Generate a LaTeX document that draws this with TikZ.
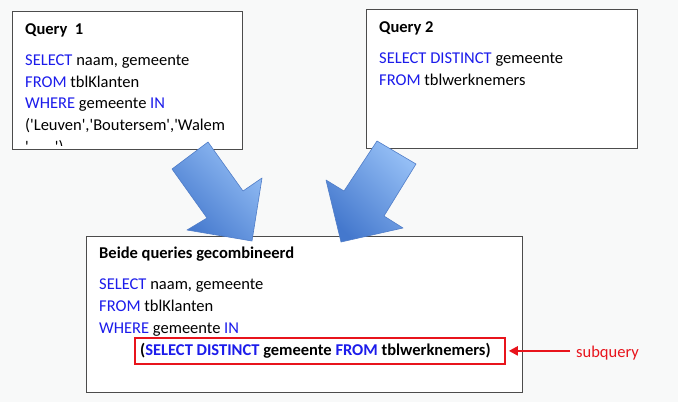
\documentclass[tikz,border=0pt]{standalone}
\usepackage{fontspec}
\setmainfont{Carlito}
\usetikzlibrary{arrows.meta}
\definecolor{kw}{RGB}{28,28,235}
\definecolor{redc}{RGB}{232,20,28}
\definecolor{bg}{RGB}{248,249,249}
\definecolor{bluedark}{RGB}{68,120,205}
\definecolor{bluelight}{RGB}{148,190,245}
\definecolor{blueedge}{RGB}{80,125,200}
\tikzset{
  qbox/.style={draw=black!70, line width=0.8pt, fill=white, inner sep=0pt, anchor=north west},
  txt/.style={anchor=base west, inner sep=0pt, font=\fontsize{16.5}{19}\selectfont},
  hd/.style={anchor=base west, inner sep=0pt, font=\fontsize{16.5}{19}\selectfont\bfseries},
  bigarrow/.style={draw=blueedge, line width=0.6pt, line join=round, bottom color=bluedark, top color=bluelight, shading angle=-45},
  redbox/.style={draw=redc, line width=1.8pt, inner sep=0pt, anchor=north west},
  redarrow/.style={draw=redc, line width=2.2pt, -{Triangle[length=9pt,width=9pt]}}
}
\newcommand{\kwd}[1]{\textcolor{kw}{#1}}
\newcommand{\sq}{\textquotesingle}
\begin{document}
\begin{tikzpicture}[x=1pt,y=-1pt]
\useasboundingbox (0,0) rectangle (678,402);
\fill[bg] (0,0) rectangle (678,402);
% boxes
\node[qbox, minimum width=230pt, minimum height=138pt] (q1) at (12,11) {};
\node[qbox, minimum width=271pt, minimum height=139pt] (q2) at (366,9) {};
\node[qbox, minimum width=436pt, minimum height=156pt] (q3) at (86,236) {};
% query 1 text
\node[hd] (q1h) at (25,34) {Query\ \ 1};
\node[txt] (q1a) at (25,65) {\kwd{SELECT} naam, gemeente};
\node[txt] (q1b) at (25,87) {\kwd{FROM} tblKlanten};
\node[txt] (q1c) at (25,108) {\kwd{WHERE} gemeente \kwd{IN}};
\node[txt] (q1d) at (25,130) {(\sq Leuven\sq,\sq Boutersem\sq,\sq Walem};
\begin{scope}
\clip (12,11) rectangle (242,145);
\node[txt] (q1e) at (25,152) {\sq,\hspace{22pt}\sq)};
\end{scope}
% query 2 text
\node[hd] (q2h) at (379,32) {Query 2};
\node[txt] (q2a) at (379,63) {\kwd{SELECT DISTINCT} gemeente};
\node[txt] (q2b) at (379,85) {\kwd{FROM} tblwerknemers};
% block arrows
\shade[bigarrow] (208,142) -- (172,169) -- (207,218) -- (187,230) -- (252,241) -- (262,178) -- (243,191) -- cycle;
\shade[bigarrow] (377,141) -- (416,164) -- (384,216) -- (403,228) -- (341,242) -- (326,180) -- (344,191) -- cycle;
% combined text
\node[hd] (q3h) at (99,258) {Beide queries gecombineerd};
\node[txt] (q3a) at (99,289) {\kwd{SELECT} naam, gemeente};
\node[txt] (q3b) at (99,311) {\kwd{FROM} tblKlanten};
\node[txt] (q3c) at (99,333) {\kwd{WHERE} gemeente \kwd{IN}};
\node[redbox, minimum width=370pt, minimum height=26pt] (rb) at (134,337) {};
\node[hd] (q3d) at (140,355) {(\kwd{SELECT DISTINCT} gemeente \kwd{FROM} tblwerknemers)};
\node[txt, text=redc] (sq) at (576,357) {subquery};
\draw[redarrow, shorten <=6pt, shorten >=3pt] (sq.west |- rb.east) -- (rb.east);
\end{tikzpicture}
\end{document}
